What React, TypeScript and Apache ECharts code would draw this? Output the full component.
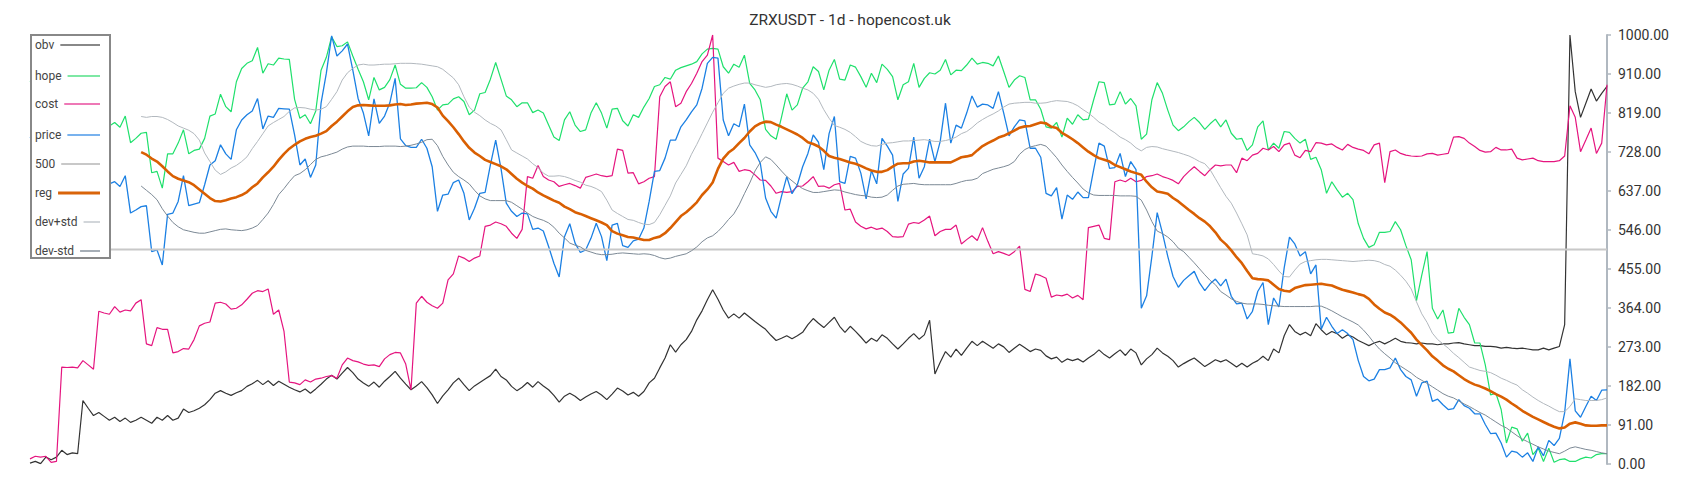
import React, { useEffect, useRef } from "react";
import * as echarts from "echarts";

const TITLE = "ZRXUSDT - 1d - hopencost.uk";

// y axis ticks
const Y_MIN = 0;
const Y_MAX = 1000;
const Y_INTERVAL = 91;

// constant reference level
const LEVEL_500 = 500;

// series names (legend order)
const NAMES = ["obv", "hope", "cost", "price", "500", "reg", "dev+std", "dev-std"];

const OBV = [
  2, 6, 1, 16, 10, 16, 32, 22, 26, 24,
  148, 130, 113, 120, 111, 102, 109, 99, 107, 97,
  102, 109, 102, 95, 109, 102, 113, 102, 107, 128,
  120, 124, 130, 138, 150, 165, 171, 165, 160, 166,
  171, 181, 187, 195, 185, 194, 183, 193, 186, 179,
  173, 168, 175, 165, 175, 186, 198, 207, 198, 212,
  225, 213, 198, 189, 181, 191, 179, 193, 204, 216,
  200, 186, 173, 182, 192, 178, 161, 141, 159, 173,
  189, 200, 185, 171, 182, 190, 198, 206, 221, 204,
  196, 181, 171, 179, 190, 179, 192, 182, 173, 160,
  144, 158, 165, 158, 148, 156, 163, 169, 161, 150,
  163, 177, 170, 161, 167, 158, 169, 189, 200, 224,
  247, 278, 261, 278, 290, 309, 336, 357, 383, 406,
  384, 359, 340, 350, 340, 352, 342, 332, 323, 314,
  300, 288, 293, 299, 292, 299, 307, 325, 339, 328,
  318, 330, 342, 321, 307, 321, 309, 296, 282, 293,
  286, 301, 293, 280, 268, 280, 293, 304, 291, 301,
  335, 210, 237, 262, 249, 268, 253, 270, 286, 276,
  286, 278, 270, 280, 273, 260, 270, 279, 271, 262,
  268, 265, 252, 245, 249, 237, 245, 241, 245, 238,
  247, 255, 266, 255, 247, 257, 266, 253, 268, 259,
  231, 245, 255, 270, 259, 251, 241, 226, 234, 241,
  247, 237, 227, 235, 243, 238, 243, 235, 226, 235,
  226, 235, 241, 251, 241, 268, 259, 299, 325, 309,
  301, 307, 299, 327, 313, 301, 309, 304, 293, 301,
  296, 288, 282, 276, 282, 286, 280, 286, 293, 286,
  283, 282, 280, 282, 280, 280, 278, 280, 280, 282,
  283, 280, 278, 276, 276, 274, 274, 273, 270, 272,
  270, 269, 270, 268, 266, 266, 270, 266, 270, 274,
  325, 1000, 868, 808, 841, 874, 846, 864, 880,
];

const COST = [
  12, 18, 16, 18, 4, 6, 226, 225, 226, 224,
  241, 231, 221, 356, 352, 349, 367, 354, 359, 357,
  375, 383, 280, 276, 318, 314, 314, 259, 262, 269,
  268, 290, 322, 328, 331, 375, 377, 373, 361, 363,
  371, 384, 398, 404, 402, 408, 349, 359, 309, 191,
  189, 185, 196, 191, 198, 200, 204, 206, 200, 231,
  247, 241, 238, 233, 230, 231, 227, 245, 255, 260,
  259, 233, 173, 375, 391, 377, 369, 363, 375, 429,
  443, 485, 480, 472, 480, 485, 554, 557, 564, 560,
  554, 538, 526, 547, 670, 666, 696, 670, 662, 658,
  647, 651, 654, 649, 643, 668, 672, 676, 672, 670,
  672, 734, 731, 678, 679, 653, 658, 666, 670, 856,
  880, 891, 833, 841, 868, 887, 911, 938, 953, 1000,
  713, 705, 697, 703, 682, 686, 684, 674, 662, 661,
  648, 631, 635, 633, 635, 647, 648, 658, 670, 647,
  648, 643, 651, 654, 592, 594, 564, 554, 548, 552,
  547, 550, 542, 530, 529, 530, 559, 563, 561, 569,
  578, 532, 542, 547, 547, 557, 513, 523, 532, 521,
  551, 519, 490, 495, 491, 486, 495, 508, 407, 402,
  443, 439, 433, 389, 394, 392, 396, 387, 393, 383,
  551, 554, 557, 526, 523, 658, 662, 658, 666, 658,
  661, 670, 672, 676, 670, 666, 661, 653, 670, 682,
  693, 682, 672, 686, 697, 695, 697, 697, 679, 713,
  707, 720, 724, 736, 732, 740, 728, 744, 748, 720,
  714, 731, 728, 749, 748, 744, 746, 738, 732, 745,
  738, 734, 731, 723, 744, 748, 656, 728, 732, 724,
  720, 718, 717, 718, 723, 724, 720, 722, 724, 762,
  763, 759, 748, 740, 731, 727, 728, 738, 732, 732,
  734, 713, 709, 711, 713, 707, 705, 705, 705, 707,
  718, 835, 808, 728, 755, 783, 724, 748, 884,
];

const PRICE = [
  760, 772, 790, 765, 800, 785, 770, 795, 810, 780,
  775, 790, 760, 745, 700, 653, 658, 647, 672, 585,
  592, 600, 602, 495, 499, 464, 582, 585, 612, 672,
  602, 606, 609, 651, 697, 707, 744, 723, 710, 779,
  802, 814, 823, 852, 781, 811, 808, 829, 828, 827,
  767, 697, 711, 668, 697, 841, 911, 998, 951, 963,
  979, 918, 852, 818, 765, 851, 794, 811, 842, 899,
  758, 742, 738, 738, 757, 736, 693, 589, 627, 629,
  656, 662, 631, 569, 596, 631, 633, 697, 755, 689,
  608, 589, 577, 585, 583, 547, 550, 543, 507, 468,
  436, 530, 560, 515, 493, 499, 526, 561, 530, 474,
  557, 561, 509, 505, 520, 524, 550, 612, 682, 684,
  713, 755, 755, 786, 802, 821, 837, 876, 934, 948,
  946, 802, 765, 793, 786, 839, 744, 726, 701, 620,
  589, 573, 624, 670, 630, 651, 693, 724, 767, 750,
  686, 770, 810, 658, 654, 717, 713, 678, 618, 684,
  653, 759, 741, 720, 612, 676, 689, 762, 666, 693,
  757, 705, 752, 841, 748, 790, 783, 818, 858, 832,
  839, 837, 829, 868, 818, 765, 786, 802, 800, 736,
  736, 715, 631, 625, 644, 571, 627, 617, 634, 621,
  621, 686, 748, 741, 689, 691, 724, 670, 705, 686,
  363, 392, 484, 586, 538, 484, 437, 412, 428, 439,
  449, 422, 404, 420, 431, 415, 431, 391, 373, 375,
  338, 356, 402, 423, 325, 387, 366, 457, 529, 513,
  485, 495, 443, 464, 314, 342, 321, 304, 313, 304,
  290, 241, 204, 194, 198, 220, 220, 224, 247, 220,
  204, 196, 158, 189, 193, 146, 151, 138, 127, 129,
  150, 136, 130, 117, 117, 92, 71, 72, 49, 16,
  30, 27, 16, 26, 6, 40, 19, 55, 43, 60,
  120, 245, 124, 109, 134, 158, 148, 172, 173,
];

const HOPE = [
  890, 902, 920, 895, 930, 915, 900, 925, 940, 910,
  905, 920, 890, 875, 830, 788, 796, 785, 811, 749,
  759, 771, 773, 679, 682, 643, 723, 723, 748, 779,
  723, 731, 734, 759, 811, 816, 862, 833, 821, 891,
  922, 934, 940, 971, 911, 933, 930, 946, 944, 943,
  850, 806, 814, 793, 823, 918, 948, 996, 973, 975,
  984, 951, 920, 891, 849, 901, 872, 878, 896, 930,
  885, 876, 876, 877, 889, 878, 856, 825, 837, 839,
  851, 856, 845, 814, 825, 863, 866, 897, 936, 897,
  858, 849, 833, 842, 842, 819, 825, 818, 790, 762,
  754, 802, 821, 790, 775, 779, 818, 842, 818, 783,
  827, 829, 800, 788, 814, 808, 832, 852, 880, 884,
  901, 897, 918, 924, 928, 932, 938, 956, 967, 969,
  967, 926, 911, 932, 925, 953, 887, 872, 849, 780,
  765, 757, 808, 863, 825, 837, 876, 891, 926, 915,
  872, 918, 943, 897, 895, 930, 925, 903, 878, 911,
  889, 932, 920, 903, 849, 884, 891, 934, 878, 899,
  912, 909, 918, 943, 907, 918, 917, 930, 946, 932,
  936, 934, 928, 951, 915, 878, 895, 905, 901, 849,
  849, 827, 786, 783, 796, 762, 806, 792, 814, 802,
  804, 849, 891, 889, 837, 839, 868, 839, 852, 835,
  757, 769, 849, 889, 864, 825, 790, 777, 786, 798,
  808, 796, 780, 793, 804, 786, 802, 771, 757, 759,
  731, 744, 786, 800, 732, 748, 736, 775, 773, 759,
  748, 757, 710, 715, 686, 631, 658, 639, 622, 631,
  616, 560, 526, 505, 511, 540, 540, 542, 565, 546,
  509, 476, 381, 440, 495, 363, 338, 359, 305, 307,
  363, 342, 325, 282, 282, 231, 161, 165, 127, 49,
  86, 82, 53, 72, 22, 37, 6, 37, 4, 10,
  12, 6, 6, 12, 16, 14, 22, 24, 24,
];

// the smoothed series start after a warm-up of 21 points
const WARMUP = 21;

const REG_VALUES = [
  727, 721, 712, 705, 694, 682, 671, 665, 661,
  657, 650, 640, 630, 620, 613, 612, 615, 619, 622,
  627, 634, 645, 654, 668, 680, 693, 709, 723, 735,
  744, 752, 758, 762, 765, 770, 776, 788, 798, 810,
  822, 832, 836, 837, 836, 835, 835, 835, 836, 838,
  839, 837, 838, 840, 841, 842, 839, 831, 812, 799,
  785, 769, 752, 737, 726, 718, 709, 704, 699, 694,
  687, 676, 665, 656, 648, 642, 633, 626, 620, 614,
  609, 600, 594, 587, 583, 578, 573, 568, 563, 557,
  543, 537, 533, 529, 528, 525, 522, 522, 527, 530,
  538, 550, 564, 578, 587, 598, 610, 627, 640, 656,
  688, 712, 726, 735, 748, 760, 775, 787, 794, 798,
  797, 791, 786, 780, 774, 768, 760, 750, 746, 740,
  730, 718, 714, 711, 707, 703, 700, 695, 689, 684,
  681, 681, 685, 693, 700, 701, 701, 705, 707, 705,
  703, 703, 703, 703, 703, 709, 715, 717, 720, 731,
  741, 748, 754, 761, 765, 771, 777, 784, 787, 788,
  792, 796, 794, 786, 783, 772, 765, 757, 748, 738,
  728, 720, 713, 709, 705, 697, 692, 687, 682, 678,
  674, 658, 645, 635, 633, 630, 620, 612, 602, 592,
  583, 573, 565, 554, 540, 523, 512, 498, 482, 468,
  450, 433, 431, 430, 428, 418, 408, 404, 402, 410,
  414, 417, 418, 419, 420, 418, 416, 411, 406, 403,
  400, 396, 393, 385, 372, 362, 353, 348, 340, 330,
  318, 306, 290, 277, 265, 251, 241, 230, 222, 216,
  207, 198, 191, 185, 181, 176, 170, 163, 157, 150,
  141, 133, 124, 117, 110, 104, 98, 92, 87, 83,
  85, 94, 97, 94, 90, 89, 89, 90, 90,
];

const DEV_UP_VALUES = [
  810, 808, 810, 810, 808, 803, 796, 788, 783,
  778, 770, 755, 725, 705, 685, 675, 681, 690, 696,
  705, 716, 735, 752, 770, 788, 796, 803, 810, 822,
  830, 831, 830, 827, 825, 827, 833, 850, 868, 895,
  912, 922, 930, 932, 930, 930, 931, 932, 932, 933,
  934, 934, 934, 933, 932, 930, 928, 926, 920, 910,
  900, 884, 856, 832, 820, 812, 802, 794, 788, 779,
  756, 732, 725, 718, 711, 700, 691, 678, 671, 671,
  672, 670, 666, 661, 657, 650, 647, 642, 635, 615,
  592, 584, 577, 570, 568, 563, 559, 558, 563, 581,
  603, 625, 655, 675, 695, 722, 745, 770, 795, 820,
  842, 864, 876, 881, 885, 888, 888, 884, 881, 878,
  880, 884, 886, 887, 885, 881, 876, 872, 864, 850,
  826, 806, 789, 785, 780, 773, 763, 752, 746, 742,
  741, 745, 748, 749, 751, 753, 753, 754, 755, 756,
  754, 752, 752, 754, 757, 762, 770, 775, 784, 795,
  803, 810, 816, 823, 832, 839, 841, 842, 843, 843,
  841, 841, 842, 845, 847, 846, 845, 841, 835, 826,
  818, 808, 797, 790, 780, 772, 762, 756, 748, 737,
  730, 738, 740, 739, 735, 732, 729, 726, 722, 718,
  712, 705, 700, 686, 665, 644, 624, 608, 585, 560,
  534, 490, 488, 485, 478, 465, 450, 437, 436, 452,
  466, 472, 474, 476, 477, 477, 476, 475, 474, 473,
  472, 473, 474, 475, 474, 471, 465, 461, 452, 440,
  426, 408, 378, 350, 330, 305, 290, 280, 270, 258,
  248, 237, 226, 222, 218, 216, 213, 207, 200, 195,
  189, 184, 173, 165, 156, 148, 141, 135, 128, 122,
  122, 134, 152, 150, 148, 148, 148, 150, 154,
];

const DEV_DOWN_VALUES = [
  648, 638, 628, 616, 595, 578, 563, 553, 546,
  543, 540, 538, 538, 541, 544, 547, 548, 546, 545,
  544, 546, 550, 556, 570, 585, 605, 628, 642, 658,
  672, 677, 686, 698, 710, 716, 719, 723, 727, 734,
  739, 741, 741, 741, 740, 740, 740, 741, 741, 741,
  740, 741, 743, 746, 750, 756, 757, 742, 717, 697,
  680, 670, 662, 653, 638, 625, 618, 614, 614, 614,
  614, 610, 602, 594, 585, 577, 572, 568, 562, 552,
  538, 527, 515, 510, 506, 498, 494, 490, 488, 488,
  489, 491, 492, 491, 490, 489, 490, 489, 486, 481,
  478, 480, 484, 487, 490, 497, 506, 518, 527, 532,
  542, 555, 570, 583, 604, 630, 655, 683, 703, 716,
  710, 697, 683, 670, 660, 650, 642, 637, 633, 633,
  635, 637, 639, 638, 634, 631, 628, 626, 625, 622,
  621, 622, 627, 638, 648, 652, 653, 654, 652, 651,
  651, 651, 651, 651, 651, 654, 658, 661, 662, 666,
  677, 682, 687, 690, 693, 697, 705, 722, 733, 739,
  742, 745, 741, 728, 714, 697, 682, 668, 655, 641,
  632, 627, 626, 626, 626, 626, 625, 625, 625, 624,
  615, 592, 565, 543, 537, 529, 518, 503, 495, 482,
  469, 455, 441, 428, 418, 402, 394, 385, 379, 375,
  373, 373, 373, 372, 370, 369, 368, 367, 367, 367,
  367, 367, 367, 368, 368, 363, 357, 350, 343, 337,
  331, 324, 312, 298, 282, 268, 257, 247, 236, 228,
  220, 212, 202, 195, 188, 180, 172, 164, 158, 154,
  147, 140, 134, 127, 120, 114, 106, 98, 90, 84,
  75, 66, 58, 52, 46, 40, 35, 30, 27, 24,
  30, 37, 40, 37, 34, 32, 29, 26, 24,
];

// x categories: one per day (index)
const CATEGORIES = OBV.map((_, i) => String(i));

const withWarmup = (vals: number[]) =>
  [...new Array(WARMUP).fill(null), ...vals] as (number | null)[];

const LINE_COLORS: Record<string, string> = {
  obv: "#333333",
  hope: "#1fe06c",
  cost: "#e5157f",
  price: "#1c80e3",
  "500": "#c8c8c8",
  reg: "#d95f02",
  "dev+std": "#b2b8be",
  "dev-std": "#7c8995",
};
const LINE_WIDTHS: Record<string, number> = {
  obv: 1.2,
  hope: 1.2,
  cost: 1.2,
  price: 1.3,
  "500": 2,
  reg: 2.6,
  "dev+std": 1,
  "dev-std": 1,
};
const ICON_COLORS: Record<string, string> = {
  obv: "#888888",
  hope: "#7ee8a4",
  cost: "#ee78b6",
  price: "#78b2ee",
  "500": "#c8c8c8",
  reg: "#d9640a",
  "dev+std": "#d2d6da",
  "dev-std": "#a6aeb6",
};

const LEGEND_BOX = { x: 31, y: 35, w: 79, h: 223 };
const LEGEND_TEXT_X = 35;
const LEGEND_ICON_END = 100;
const LEGEND_ROWS_Y = [45, 76, 104, 135, 164, 193, 222, 251];
const LEGEND_FONT = "12px Roboto";

function measure(text: string, font: string): number {
  const ctx = document.createElement("canvas").getContext("2d");
  if (!ctx) return text.length * 7;
  ctx.font = font;
  return ctx.measureText(text).width;
}

function buildLegend() {
  const children: any[] = [
    {
      type: "rect",
      shape: { x: LEGEND_BOX.x, y: LEGEND_BOX.y, width: LEGEND_BOX.w, height: LEGEND_BOX.h },
      style: { fill: "#ffffff", stroke: "#888888", lineWidth: 2 },
      z: 100,
    },
  ];
  NAMES.forEach((name, k) => {
    const y = LEGEND_ROWS_Y[k];
    const tw = measure(name, LEGEND_FONT);
    children.push({
      type: "text",
      style: {
        text: name,
        x: LEGEND_TEXT_X,
        y,
        font: LEGEND_FONT,
        fill: "#444444",
        verticalAlign: "middle",
        align: "left",
      },
      z: 101,
    });
    children.push({
      type: "line",
      shape: { x1: LEGEND_TEXT_X + tw + 6, y1: y, x2: LEGEND_ICON_END, y2: y },
      style: { stroke: ICON_COLORS[name], lineWidth: name === "reg" ? 3 : 2 },
      z: 101,
    });
  });
  return children;
}

export default function App() {
  const ref = useRef<HTMLDivElement>(null);

  useEffect(() => {
    if (!ref.current) return;
    const chart = echarts.init(ref.current, undefined, { renderer: "svg" });

    const dataByName: Record<string, (number | null)[]> = {
      obv: OBV,
      hope: HOPE,
      cost: COST,
      price: PRICE,
      "500": CATEGORIES.map(() => LEVEL_500),
      reg: withWarmup(REG_VALUES),
      "dev+std": withWarmup(DEV_UP_VALUES),
      "dev-std": withWarmup(DEV_DOWN_VALUES),
    };

    const series = NAMES.map((name) => ({
      name,
      type: "line",
      data: dataByName[name],
      showSymbol: false,
      symbol: "none",
      connectNulls: false,
      lineStyle: { color: LINE_COLORS[name], width: LINE_WIDTHS[name] },
      itemStyle: { color: LINE_COLORS[name] },
      emphasis: { disabled: true },
      silent: true,
    }));

    chart.setOption({
      animation: false,
      textStyle: { fontFamily: "Roboto" },
      title: {
        text: TITLE,
        left: "center",
        top: 12,
        padding: 0,
        textStyle: { fontSize: 15.5, fontWeight: "normal", color: "#333333", fontFamily: "Roboto" },
      },
      grid: { left: 30, right: 93, top: 35, bottom: 36 },
      xAxis: {
        type: "category",
        data: CATEGORIES,
        boundaryGap: false,
        show: false,
      },
      yAxis: {
        type: "value",
        position: "right",
        min: Y_MIN,
        max: Y_MAX,
        interval: Y_INTERVAL,
        axisLine: { show: true, lineStyle: { color: "#b0b8c0", width: 2 } },
        axisTick: { show: true, length: 4, lineStyle: { color: "#b0b8c0", width: 1.5 } },
        axisLabel: {
          formatter: (v: number) => v.toFixed(2),
          color: "#333333",
          fontSize: 14,
          margin: 11,
          fontFamily: "Roboto",
        },
        splitLine: { show: false },
      },
      series,
      graphic: buildLegend(),
    });

    return () => chart.dispose();
  }, []);

  return (
    <div
      ref={ref}
      style={{ position: "absolute", left: 0, top: 0, width: 1700, height: 500, background: "#fff" }}
    />
  );
}
